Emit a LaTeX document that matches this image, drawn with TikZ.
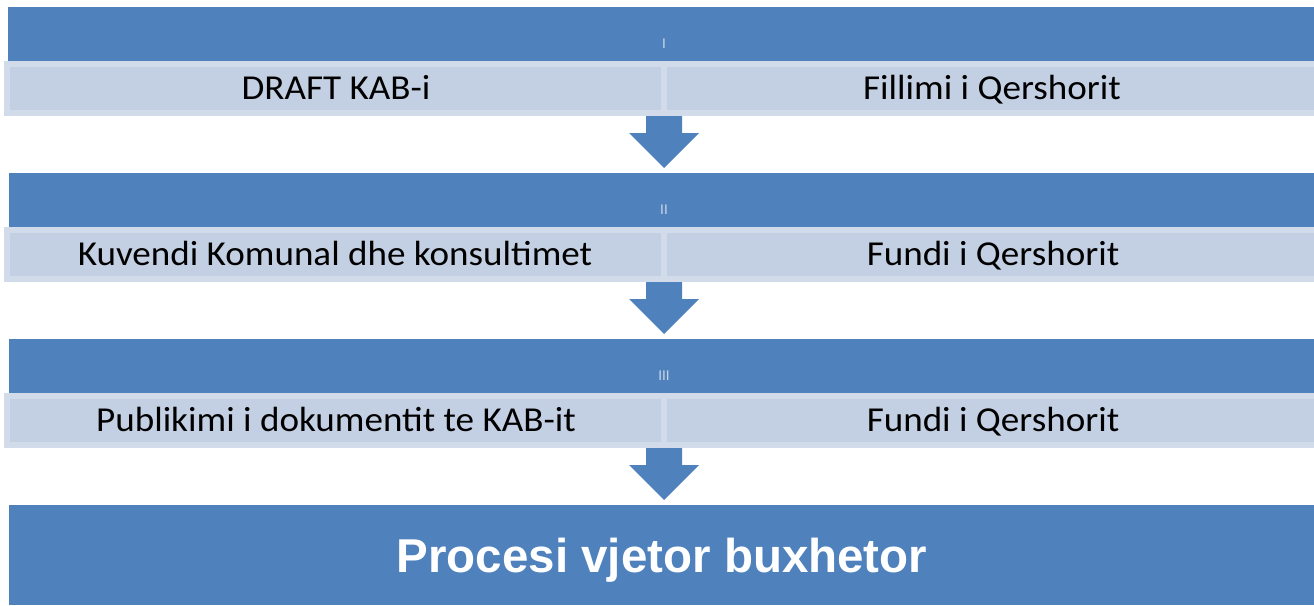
\documentclass[tikz,border=0pt]{standalone}
\usepackage{fontspec}
\setmainfont{Carlito}
\newfontfamily\arialfont{Liberation Sans}
\definecolor{bandblue}{HTML}{4F81BD}
\definecolor{lightband}{HTML}{C3CFE2}
\definecolor{rimcol}{HTML}{D2DBEA}
\definecolor{numcol}{HTML}{C8D3E7}
\usetikzlibrary{calc}
\tikzset{
  x=1pt, y=-1pt,
  blueband/.style={fill=bandblue, draw=none, inner sep=0pt, outer sep=0pt,
    minimum width=1306pt, minimum height=54pt, anchor=north west},
  lightrow/.style={fill=lightband, draw=rimcol, line width=6pt, inner sep=0pt, outer sep=0pt,
    minimum width=1313pt, minimum height=49pt, anchor=north west},
  divider/.style={fill=rimcol, draw=none, inner sep=0pt, outer sep=0pt,
    minimum width=6pt, minimum height=55pt, anchor=north},
  rowtext/.style={font=\fontsize{35}{40}\selectfont, text=black, inner sep=0pt, anchor=base, xscale=1.06},
  numtext/.style={font=\fontsize{15}{17}\selectfont, text=numcol, inner sep=0pt, anchor=base},
  finalbox/.style={fill=bandblue, draw=none, inner sep=0pt, outer sep=0pt,
    minimum width=1305pt, minimum height=100pt, anchor=north west},
  finaltext/.style={font=\arialfont\bfseries\fontsize{47.5}{54}\selectfont, text=white, inner sep=0pt, anchor=base},
  blockarrow/.style={fill=bandblue, draw=none}
}
\newcommand{\downarrowshape}[1]{%
  \fill[blockarrow] ($(#1)+(-18,0)$) -- ($(#1)+(18,0)$) -- ($(#1)+(18,17)$) -- ($(#1)+(35,17)$)
    -- ($(#1)+(0,52)$) -- ($(#1)+(-35,17)$) -- ($(#1)+(-18,17)$) -- cycle;}
\begin{document}
\begin{tikzpicture}
\useasboundingbox (0,0) rectangle (1314,605);
% row 1
\node[blueband] (b1) at (8,7) {};
\node[lightrow] (l1) at (7,64) {};
\node[divider] (d1) at (664,61) {};
\node[numtext] (n1) at (664,48.5) {I};
\node[rowtext] (t1a) at (336,99) {DRAFT KAB-i};
\node[rowtext] (t1b) at (992,99) {Fillimi i Qershorit};
% row 2
\node[blueband] (b2) at (9,173) {};
\node[lightrow] (l2) at (7,230) {};
\node[divider] (d2) at (664,227) {};
\node[numtext] (n2) at (664,214.5) {II};
\node[rowtext] (t2a) at (335,265) {Kuvendi Komunal dhe konsultimet};
\node[rowtext] (t2b) at (993,265) {Fundi i Qershorit};
% row 3
\node[blueband] (b3) at (9,339) {};
\node[lightrow] (l3) at (7,396) {};
\node[divider] (d3) at (664,393) {};
\node[numtext] (n3) at (664,380.5) {III};
\node[rowtext] (t3a) at (336,431) {Publikimi i dokumentit te KAB-it};
\node[rowtext] (t3b) at (993,431) {Fundi i Qershorit};
% final
\node[finalbox] (fb) at (9,505) {};
\node[finaltext] (ft) at (662,572) {Procesi vjetor buxhetor};
% arrows
\coordinate (a1) at (664,116);
\coordinate (a2) at (664,282);
\coordinate (a3) at (664,448);
\downarrowshape{a1}
\downarrowshape{a2}
\downarrowshape{a3}
\end{tikzpicture}
\end{document}
